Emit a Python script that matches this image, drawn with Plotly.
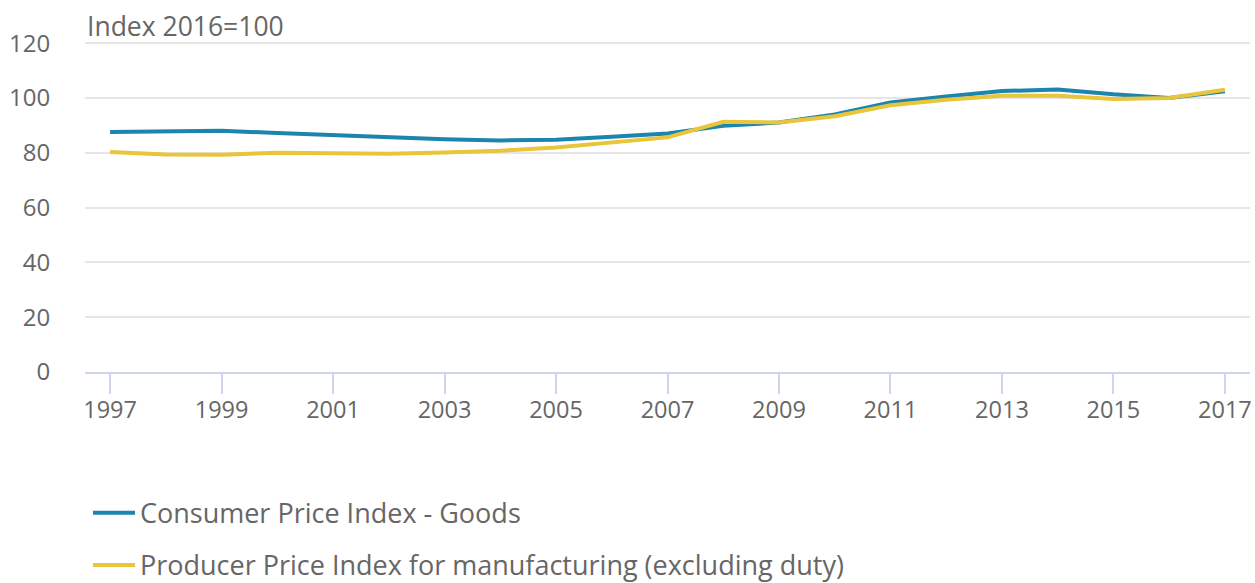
import plotly.graph_objects as go

years = list(range(1997, 2018))
cpi_goods = [87.6, 87.8, 88.0, 87.2, 86.4, 85.5, 84.9, 84.5, 84.7, 85.8, 87.0,
             89.8, 91.0, 94.0, 98.3, 100.5, 102.5, 103.1, 101.3, 100.0, 102.4]
ppi_manuf = [80.3, 79.4, 79.3, 80.0, 79.8, 79.6, 80.1, 80.7, 81.9, 83.7, 85.6,
             91.3, 91.0, 93.3, 97.3, 99.3, 100.8, 100.8, 99.6, 100.0, 103.0]
series_names = ["Consumer Price Index - Goods",
                "Producer Price Index for manufacturing (excluding duty)"]
x_ticks = list(range(1997, 2018, 2))
y_ticks = [0, 20, 40, 60, 80, 100, 120]

BLUE = "#1b85ad"
YELLOW = "#e8c53a"
TXT = "#666666"
FONT = "Open Sans"

fig = go.Figure()
fig.add_trace(go.Scatter(x=years, y=cpi_goods, name=series_names[0], mode="lines",
                         line=dict(color=BLUE, width=4), legendgroup="a"))
fig.add_trace(go.Scatter(x=years, y=ppi_manuf, name=series_names[1], mode="lines",
                         line=dict(color=YELLOW, width=4), legendgroup="b"))

fig.update_layout(
    width=1255, height=583,
    margin=dict(l=85, r=5, t=42, b=211, autoexpand=False),
    paper_bgcolor="white", plot_bgcolor="white",
    font=dict(family=FONT, color=TXT, size=23),
    showlegend=True,
    legend=dict(orientation="v", xref="container", yref="paper",
                x=0.0701, y=-0.660, xanchor="left", yanchor="bottom",
                font=dict(size=27, color=TXT, family=FONT),
                traceorder="grouped", tracegroupgap=14, itemwidth=42,
                bgcolor="rgba(0,0,0,0)"),
    xaxis=dict(range=[1996.55, 2017.45], tickvals=x_ticks, ticktext=[str(v) for v in x_ticks],
               tickangle=0,
               showgrid=False, zeroline=False, showline=True, linecolor="#ccd6eb", linewidth=1.5,
               ticks="outside", ticklen=20, tickcolor="#ccd6eb", tickwidth=1.5,
               ticklabelstandoff=-4,
               tickfont=dict(size=23.5, color=TXT), fixedrange=True),
    yaxis=dict(range=[0, 120.4], tickvals=y_ticks, showgrid=True, gridcolor="#e6e6e6", gridwidth=1.5,
               zeroline=False, showline=False, ticks="outside", ticklen=29,
               tickcolor="rgba(0,0,0,0)",
               tickfont=dict(size=24, color=TXT), fixedrange=True),
    annotations=[dict(text="Index 2016=100", xref="paper", yref="paper", x=0, y=1,
                      xanchor="left", yanchor="bottom", showarrow=False, yshift=-4,
                      font=dict(size=26.5, color=TXT, family=FONT))],
)

fig.write_html("out.html", config={"displayModeBar": False},
               post_script="document.body.style.margin='0';document.body.style.overflow='hidden';")
